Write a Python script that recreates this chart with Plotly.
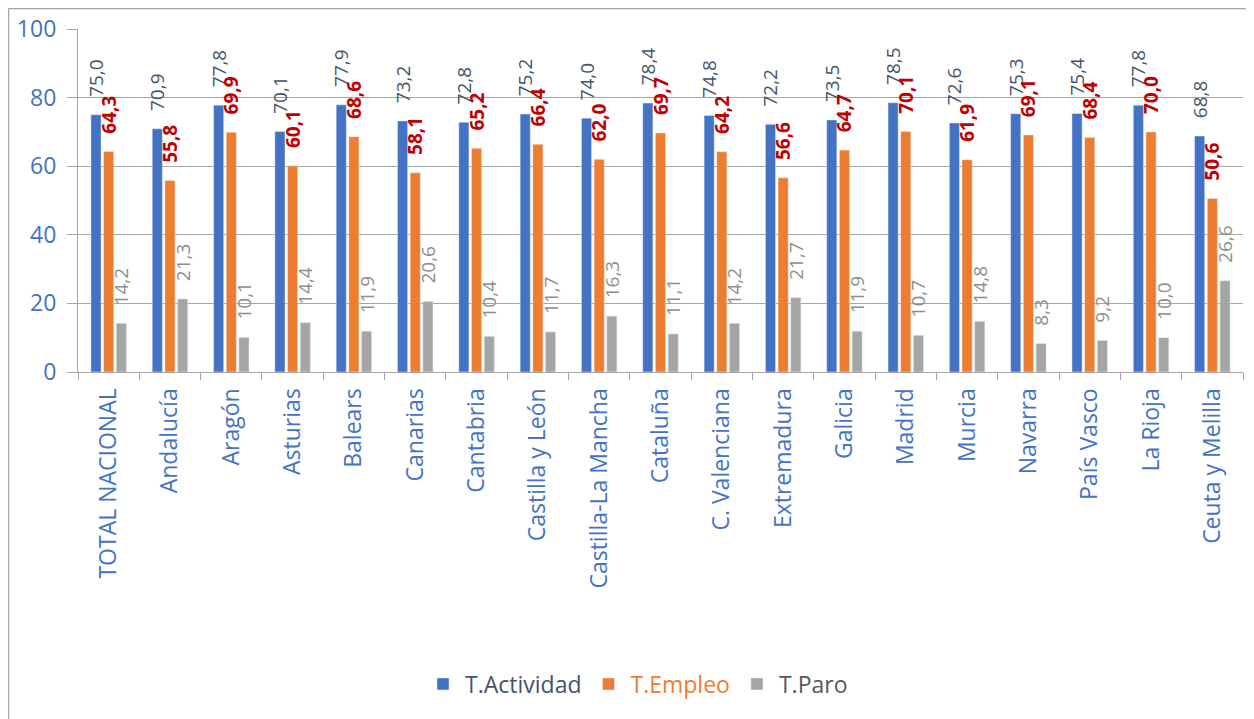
import plotly.graph_objects as go

categories = ["TOTAL NACIONAL", "Andalucía", "Aragón", "Asturias", "Balears", "Canarias",
              "Cantabria", "Castilla y León", "Castilla-La Mancha", "Cataluña", "C. Valenciana",
              "Extremadura", "Galicia", "Madrid", "Murcia", "Navarra", "País Vasco", "La Rioja",
              "Ceuta y Melilla"]
actividad = [75.0, 70.9, 77.8, 70.1, 77.9, 73.2, 72.8, 75.2, 74.0, 78.4, 74.8, 72.2, 73.5,
             78.5, 72.6, 75.3, 75.4, 77.8, 68.8]
empleo = [64.3, 55.8, 69.9, 60.1, 68.6, 58.1, 65.2, 66.4, 62.0, 69.7, 64.2, 56.6, 64.7,
          70.1, 61.9, 69.1, 68.4, 70.0, 50.6]
paro = [14.2, 21.3, 10.1, 14.4, 11.9, 20.6, 10.4, 11.7, 16.3, 11.1, 14.2, 21.7, 11.9,
        10.7, 14.8, 8.3, 9.2, 10.0, 26.6]
y_ticks = [0, 20, 40, 60, 80, 100]

FONT = "Open Sans"
OFF = 8  # page body margin
W, H = 1254 - OFF, 719 - OFF
L, R, T, B = 78 - OFF, 1243 - OFF, 29 - OFF, 372 - OFF  # plot area in figure pixels

tmpl = "\u00a0\u00a0\u00a0%{y:.1f}"

fig = go.Figure()
fig.add_trace(go.Bar(
    x=categories, y=actividad, name="<span style='color:#44546A'>T.Actividad</span>",
    marker=dict(color="#4472C4"),
    texttemplate=tmpl, textposition="outside", textangle=-90, constraintext="none",
    cliponaxis=False,
    textfont=dict(family=FONT, size=19, color="#44546A")))
fig.add_trace(go.Bar(
    x=categories, y=empleo, name="<span style='color:#ED7D31'>T.Empleo</span>",
    marker=dict(color="#ED7D31"),
    texttemplate=tmpl, textposition="outside", textangle=-90, constraintext="none",
    cliponaxis=False,
    textfont=dict(family=FONT, size=19, color="#C00000", weight="bold")))
fig.add_trace(go.Bar(
    x=categories, y=paro, name="<span style='color:#595959'>T.Paro</span>",
    marker=dict(color="#A5A5A5"),
    texttemplate=tmpl, textposition="outside", textangle=-90, constraintext="none",
    cliponaxis=False,
    textfont=dict(family=FONT, size=19, color="#8E8E8E")))

pw, ph = R - L, B - T
def px_x(p):  # screenshot x -> paper
    return (p - OFF - L) / pw
def px_y(p):  # screenshot y -> paper
    return (B - (p - OFF)) / ph

border = dict(color="#A6A6A6", width=1.2)
fig.add_shape(type="line", xref="paper", yref="paper",
              x0=px_x(8.6), x1=px_x(W + OFF + 5), y0=px_y(8.6), y1=px_y(8.6), line=border)
fig.add_shape(type="line", xref="paper", yref="paper",
              x0=px_x(8.6), x1=px_x(8.6), y0=px_y(8.6), y1=px_y(H + OFF + 5), line=border)

fig.update_layout(
    width=W, height=H,
    margin=dict(l=L, r=W - R, t=T, b=H - B, pad=0, autoexpand=False),
    paper_bgcolor="white", plot_bgcolor="white",
    separators=",.",
    barmode="group", bargap=0.38, bargroupgap=0.2,
    font=dict(family=FONT, size=23, color="#4472C4"),
    showlegend=True,
    legend=dict(orientation="h", x=px_x(637), xanchor="center", y=px_y(684), yanchor="middle",
                font=dict(family=FONT, size=23, color="#44546A"),
                itemwidth=34, traceorder="normal"),
    xaxis=dict(
        type="category", tickangle=-90, tickson="boundaries", ticks="outside",
        ticklen=7, tickcolor="#A6A6A6", showline=True, linecolor="#A6A6A6", linewidth=1.2,
        tickfont=dict(family=FONT, size=23, color="#4472C4"),
        ticklabelstandoff=6, showgrid=False, automargin=False),
    yaxis=dict(
        range=[0, 100], tickvals=y_ticks, ticks="outside", ticklen=10, tickcolor="#A6A6A6",
        showline=True, linecolor="#A6A6A6", linewidth=1.2,
        showgrid=True, gridcolor="#A6A6A6", gridwidth=1.2,
        zeroline=False, automargin=False,
        tickfont=dict(family=FONT, size=23, color="#4472C4"),
        ticklabelstandoff=6),
)

fig.write_html("out.html")
